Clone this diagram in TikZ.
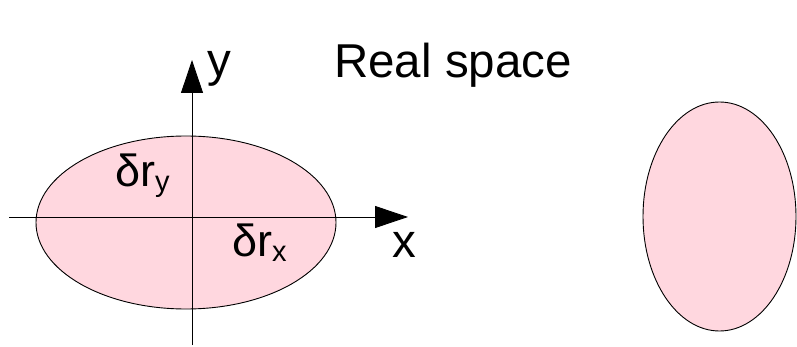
\documentclass[tikz,border=0pt]{standalone}
\usepackage{fontspec}
\setmainfont{Liberation Sans}
\usetikzlibrary{shapes.geometric,arrows.meta}
\definecolor{blobpink}{RGB}{255,215,223}
\newcommand{\lowsub}[1]{\raisebox{-5pt}{\fontsize{29}{33}\selectfont #1}}

\begin{document}
\begin{tikzpicture}[
    x=1pt, y=-1pt,
    blob/.style={draw, ellipse, fill=blobpink, line width=0.9pt, inner sep=0pt},
    axis/.style={line width=0.9pt, -{Triangle[length=33pt, width=22pt]}},
    big/.style={inner sep=0pt, font=\fontsize{47.5}{56}\selectfont},
    sym/.style={inner sep=0pt, anchor=base west, font=\fontsize{45}{53}\selectfont}
]
    \useasboundingbox (0,0) rectangle (797,347);

    % --- Ellipses ---
    \node[blob, minimum width=300pt, minimum height=173pt] (wide) at (186,222.5) {};
    \node[blob, minimum width=153pt, minimum height=229pt] (tall) at (719.5,216.5) {};

    % --- Axes ---
    \coordinate (xfrom) at (9,217);
    \coordinate (xto) at (408,217);
    \coordinate (yfrom) at (192,345);
    \coordinate (yto) at (192,60);
    \draw[axis] (xfrom) -- (xto);
    \draw[axis] (yfrom) -- (yto);

    % --- Labels ---
    \node[big, anchor=base] (xlab) at (404,258) {x};
    \node[big, anchor=base west] (ylab) at (207,77) {y};
    \node[big, anchor=base west] (title) at (334,78) {Real space};
    \node[sym] (dry) at (115,187) {δr\lowsub{y}};
    \node[sym] (drx) at (232,257) {δr\lowsub{x}};
\end{tikzpicture}
\end{document}
